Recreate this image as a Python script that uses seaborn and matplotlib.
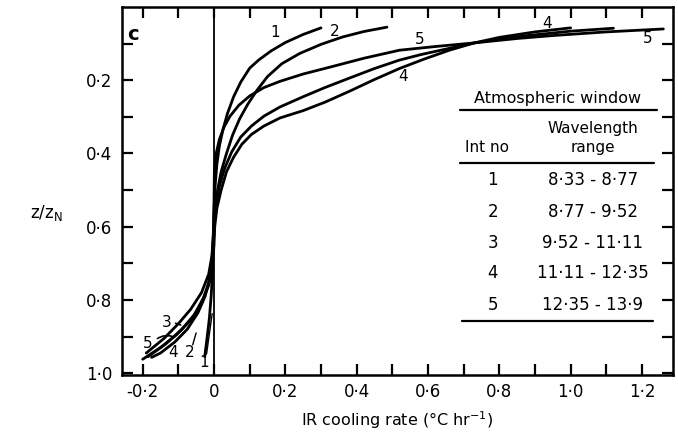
import matplotlib
matplotlib.use("Agg")
import matplotlib.pyplot as plt
import numpy as np
import pandas as pd
import seaborn as sns

# ---- data ----
c1_rate = [0.300, 0.250, 0.200, 0.160, 0.125, 0.100, 0.075, 0.055, 0.038, 0.025, 0.015, 0.008, 0.003, 0.000,
           -0.002, -0.004, -0.008, -0.013, -0.019, -0.026]
c1_z = [0.057, 0.075, 0.097, 0.120, 0.145, 0.167, 0.205, 0.245, 0.290, 0.335, 0.380, 0.430, 0.490, 0.560,
        0.650, 0.720, 0.790, 0.850, 0.900, 0.955]

c2_rate = [0.485, 0.420, 0.360, 0.300, 0.240, 0.190, 0.150, 0.120, 0.095, 0.072, 0.052, 0.035, 0.020, 0.010,
           0.003, 0.000, -0.005, -0.012, -0.025, -0.045, -0.075, -0.110, -0.150, -0.175]
c2_z = [0.055, 0.067, 0.082, 0.102, 0.127, 0.155, 0.190, 0.228, 0.265, 0.305, 0.350, 0.400, 0.450, 0.500,
        0.560, 0.620, 0.690, 0.740, 0.790, 0.835, 0.880, 0.915, 0.945, 0.957]

c3_rate = [1.120, 1.000, 0.880, 0.800, 0.730, 0.650, 0.580, 0.520, 0.450, 0.380, 0.311, 0.250, 0.185, 0.140,
           0.105, 0.075, 0.050, 0.030, 0.015, 0.005, 0.000, -0.006, -0.015, -0.035, -0.065, -0.100, -0.140, -0.190]
c3_z = [0.058, 0.066, 0.078, 0.088, 0.098, 0.115, 0.130, 0.145, 0.168, 0.194, 0.220, 0.245, 0.273, 0.298,
        0.325, 0.355, 0.395, 0.440, 0.490, 0.540, 0.600, 0.680, 0.730, 0.780, 0.825, 0.865, 0.905, 0.945]

c4_rate = [1.000, 0.900, 0.800, 0.730, 0.660, 0.590, 0.520, 0.450, 0.380, 0.311, 0.250, 0.185, 0.140, 0.105,
           0.078, 0.055, 0.035, 0.020, 0.008, 0.002, 0.000, -0.005, -0.013, -0.030, -0.055, -0.090, -0.135, -0.185]
c4_z = [0.057, 0.068, 0.083, 0.098, 0.118, 0.142, 0.168, 0.198, 0.230, 0.260, 0.283, 0.303, 0.325, 0.348,
        0.375, 0.410, 0.450, 0.500, 0.550, 0.600, 0.650, 0.710, 0.750, 0.795, 0.840, 0.880, 0.920, 0.955]

c5_rate = [1.260, 1.100, 0.950, 0.850, 0.730, 0.620, 0.520, 0.420, 0.330, 0.250, 0.185, 0.140, 0.100, 0.070,
           0.045, 0.028, 0.015, 0.006, 0.001, 0.000, -0.002, -0.006, -0.015, -0.035, -0.065, -0.105, -0.150, -0.200]
c5_z = [0.060, 0.068, 0.078, 0.086, 0.098, 0.108, 0.118, 0.140, 0.163, 0.183, 0.203, 0.220, 0.243, 0.268,
        0.298, 0.328, 0.362, 0.400, 0.450, 0.530, 0.620, 0.700, 0.760, 0.810, 0.855, 0.895, 0.930, 0.962]

int_no = ["1", "2", "3", "4", "5"]
wave_range = ["8·33 - 8·77", "8·77 - 9·52", "9·52 - 11·11", "11·11 - 12·35", "12·35 - 13·9"]

x_ticks = [-0.2, 0.0, 0.2, 0.4, 0.6, 0.8, 1.0, 1.2]
y_ticks = [0.2, 0.4, 0.6, 0.8, 1.0]

curves = {"1": (c1_rate, c1_z), "2": (c2_rate, c2_z), "3": (c3_rate, c3_z),
          "4": (c4_rate, c4_z), "5": (c5_rate, c5_z)}

# ---- plotting ----
sns.set_theme(style="ticks")
plt.rcParams["font.family"] = ["DejaVu Sans"]
plt.rcParams["text.color"] = "black"
plt.rcParams["axes.labelcolor"] = "black"
plt.rcParams["xtick.color"] = "black"
plt.rcParams["ytick.color"] = "black"

W, H = 678, 436
fig = plt.figure(figsize=(W / 100, H / 100), dpi=100)
ax = fig.add_axes([122 / W, 1 - 375 / H, (673 - 122) / W, (375 - 7) / H])

for name, (xs, zs) in curves.items():
    df = pd.DataFrame({"rate": xs, "z": zs})
    sns.lineplot(data=df, x="rate", y="z", sort=False, estimator=None,
                 color="black", lw=2.0, ax=ax)

ax.axvline(0, color="black", lw=1.3)

ax.set_xlim(-0.258, 1.287)
ax.set_ylim(1.005, 0.0)

def fmt(v):
    if abs(v) < 1e-9:
        return "0"
    return f"{v:.1f}".replace(".", "·")

ax.set_xticks(x_ticks)
ax.set_xticklabels([fmt(v) for v in x_ticks])
ax.set_xticks(np.arange(-0.2, 1.25, 0.1), minor=True)
ax.set_yticks(y_ticks)
ax.set_yticklabels([fmt(v) for v in y_ticks])
ax.set_yticks(np.arange(0.1, 1.0, 0.1), minor=True)

for which in ("major", "minor"):
    ax.tick_params(axis="both", which=which, direction="in", length=8, width=1.6,
                   top=True, right=True, color="black")
ax.tick_params(axis="x", which="major", labelsize=12, pad=6, labelcolor="black")
ax.tick_params(axis="y", which="major", labelsize=12, pad=7, labelcolor="black")
for s in ax.spines.values():
    s.set_linewidth(1.8)
    s.set_color("black")

ax.set_xlabel("IR cooling rate (°C hr$^{-1}$)", fontsize=11.5, labelpad=6, color="black")
ax.set_ylabel("")
fig.text(30 / W, 1 - 213 / H, r"z/z$_{\rm N}$", fontsize=12, ha="left", va="center")

ax.text(-0.245, 0.075, "c", fontsize=14, fontweight="bold", ha="left", va="center")

# curve labels
ax.text(0.171, 0.071, "1", fontsize=11, ha="center", va="center")
ax.text(0.339, 0.068, "2", fontsize=11, ha="center", va="center")
ax.text(0.578, 0.090, "5", fontsize=11, ha="center", va="center")
ax.text(0.530, 0.191, "4", fontsize=11, ha="center", va="center")
ax.text(0.934, 0.046, "4", fontsize=11, ha="center", va="center")
ax.text(1.217, 0.085, "5", fontsize=11, ha="center", va="center")
ax.text(-0.132, 0.861, "3", fontsize=11, ha="center", va="center")
ax.text(-0.185, 0.918, "5", fontsize=11, ha="center", va="center")
ax.text(-0.115, 0.943, "4", fontsize=11, ha="center", va="center")
ax.text(-0.067, 0.943, "2", fontsize=11, ha="center", va="center")
ax.text(-0.028, 0.970, "1", fontsize=11, ha="center", va="center")
ax.annotate("", xy=(-0.086, 0.871), xytext=(-0.115, 0.861),
            arrowprops=dict(arrowstyle="-", lw=1.2, color="black"))
ax.annotate("", xy=(-0.110, 0.902), xytext=(-0.165, 0.910),
            arrowprops=dict(arrowstyle="-", lw=1.2, color="black",
                            connectionstyle="arc3,rad=-0.3"))
ax.annotate("", xy=(-0.048, 0.883), xytext=(-0.062, 0.930),
            arrowprops=dict(arrowstyle="-", lw=1.0, color="black"))
ax.annotate("", xy=(-0.004, 0.830), xytext=(-0.022, 0.955),
            arrowprops=dict(arrowstyle="-", lw=1.0, color="black"))

# table
ax.text(0.962, 0.249, "Atmospheric window", fontsize=11.5, ha="center", va="center")
ax.plot([0.69, 1.242], [0.281, 0.281], color="black", lw=1.6)
ax.text(1.062, 0.331, "Wavelength", fontsize=11, ha="center", va="center")
ax.text(1.062, 0.383, "range", fontsize=11, ha="center", va="center")
ax.text(0.765, 0.383, "Int no", fontsize=11, ha="center", va="center")
ax.plot([0.69, 1.234], [0.426, 0.426], color="black", lw=1.6)
row_z = [0.473, 0.560, 0.645, 0.727, 0.814]
for n, r, zz in zip(int_no, wave_range, row_z):
    ax.text(0.782, zz, n, fontsize=12, ha="center", va="center")
    ax.text(1.062, zz, r, fontsize=12, ha="center", va="center")
ax.plot([0.695, 1.231], [0.858, 0.858], color="black", lw=1.6)

fig.savefig("out.png", dpi=100, facecolor="white")
